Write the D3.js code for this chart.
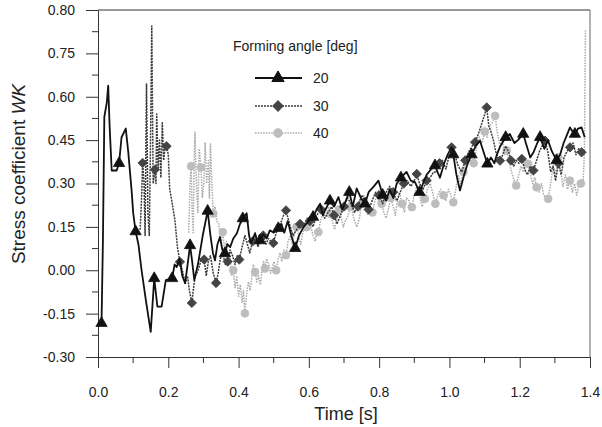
<!DOCTYPE html>
<html>
<head>
<meta charset="utf-8">
<script src="https://cdn.jsdelivr.net/npm/d3@7"></script>
<style>
  body { margin: 0; background: #fff; }
  svg { display: block; font-family: "Liberation Sans", Arial, sans-serif; }
</style>
</head>
<body>
<svg id="chart" width="602" height="427"></svg>
<script>
// legend labels
var series_names = ["20", "30", "40"];

// axis ticks (top tick printed as 0.80 in the original figure)
var y_ticks = [-0.30, -0.15, 0.00, 0.15, 0.30, 0.45, 0.60, 0.75, 0.90],
    y_tick_labels = ["-0.30", "-0.15", "0.00", "0.15", "0.30", "0.45", "0.60", "0.75", "0.80"],
    x_ticks = [0.0, 0.2, 0.4, 0.6, 0.8, 1.0, 1.2, 1.4],
    x_tick_labels = ["0.0", "0.2", "0.4", "0.6", "0.8", "1.0", "1.2", "1.4"];

// series 20 deg : [time, WK]
var data20 = [[0.010,-0.183],[0.014,0.10],[0.018,0.53],[0.025,0.58],[0.029,0.638],[0.033,0.50],[0.039,0.345],[0.053,0.345],[0.060,0.370],[0.067,0.46],[0.079,0.49],[0.086,0.41],[0.096,0.27],[0.100,0.20],[0.107,0.134],[0.115,0.09],[0.124,0.00],[0.137,-0.11],[0.150,-0.213],[0.160,-0.028],[0.169,-0.126],[0.181,-0.126],[0.193,-0.034],[0.211,-0.028],[0.218,0.02],[0.224,0.011],[0.232,0.04],[0.240,-0.02],[0.248,-0.045],[0.262,0.086],[0.268,0.03],[0.274,-0.034],[0.285,0.024],[0.298,0.12],[0.312,0.205],[0.320,0.12],[0.327,0.06],[0.333,0.034],[0.340,0.09],[0.347,0.115],[0.354,0.07],[0.361,0.058],[0.368,0.09],[0.376,0.08],[0.385,0.11],[0.395,0.127],[0.404,0.16],[0.412,0.179],[0.423,0.197],[0.430,0.12],[0.435,0.093],[0.441,0.11],[0.447,0.127],[0.455,0.09],[0.461,0.103],[0.470,0.125],[0.480,0.11],[0.489,0.138],[0.500,0.13],[0.513,0.145],[0.522,0.16],[0.530,0.13],[0.540,0.17],[0.550,0.12],[0.561,0.076],[0.572,0.12],[0.585,0.15],[0.600,0.17],[0.612,0.184],[0.622,0.21],[0.632,0.23],[0.640,0.19],[0.646,0.207],[0.660,0.24],[0.672,0.22],[0.684,0.253],[0.695,0.21],[0.705,0.24],[0.715,0.27],[0.725,0.22],[0.736,0.283],[0.748,0.25],[0.760,0.23],[0.770,0.27],[0.785,0.29],[0.798,0.31],[0.810,0.26],[0.820,0.24],[0.830,0.28],[0.840,0.25],[0.850,0.30],[0.862,0.32],[0.878,0.34],[0.890,0.31],[0.902,0.305],[0.915,0.27],[0.925,0.30],[0.935,0.33],[0.948,0.35],[0.959,0.362],[0.966,0.34],[0.973,0.32],[0.985,0.37],[0.995,0.40],[1.006,0.425],[1.011,0.40],[1.020,0.33],[1.030,0.276],[1.042,0.33],[1.052,0.37],[1.063,0.40],[1.075,0.43],[1.087,0.448],[1.097,0.41],[1.108,0.368],[1.118,0.39],[1.128,0.37],[1.135,0.40],[1.145,0.43],[1.160,0.46],[1.172,0.471],[1.185,0.44],[1.195,0.45],[1.210,0.471],[1.220,0.43],[1.230,0.39],[1.240,0.41],[1.250,0.44],[1.258,0.46],[1.270,0.42],[1.280,0.45],[1.292,0.41],[1.305,0.38],[1.315,0.40],[1.325,0.44],[1.335,0.47],[1.343,0.494],[1.350,0.48],[1.357,0.471],[1.366,0.49],[1.376,0.494],[1.385,0.46]];
var marks20 = [0.010,0.060,0.107,0.160,0.211,0.262,0.312,0.361,0.412,0.461,0.513,0.561,0.612,0.660,0.715,0.760,0.810,0.862,0.915,0.959,1.011,1.063,1.108,1.160,1.210,1.258,1.305,1.357];

// series 30 deg
var data30 = [[0.120,0.14],[0.124,0.25],[0.127,0.371],[0.131,0.30],[0.134,0.12],[0.138,0.644],[0.142,0.20],[0.146,0.12],[0.150,0.50],[0.153,0.845],[0.157,0.30],[0.162,0.348],[0.165,0.30],[0.167,0.54],[0.171,0.35],[0.175,0.45],[0.179,0.32],[0.183,0.51],[0.187,0.38],[0.191,0.43],[0.195,0.429],[0.200,0.40],[0.204,0.28],[0.210,0.24],[0.219,0.172],[0.226,0.08],[0.233,0.029],[0.240,0.00],[0.248,-0.045],[0.255,-0.02],[0.260,-0.07],[0.267,-0.113],[0.272,-0.06],[0.276,-0.023],[0.285,0.00],[0.295,0.041],[0.302,0.037],[0.308,-0.02],[0.314,0.03],[0.320,0.05],[0.328,-0.01],[0.336,-0.044],[0.342,-0.01],[0.348,0.04],[0.355,0.06],[0.362,0.02],[0.369,0.03],[0.376,0.07],[0.383,0.05],[0.390,0.02],[0.396,0.05],[0.402,0.037],[0.410,0.08],[0.418,0.12],[0.425,0.09],[0.432,0.06],[0.440,0.10],[0.447,0.13],[0.455,0.08],[0.462,0.10],[0.470,0.12],[0.478,0.09],[0.485,0.11],[0.492,0.10],[0.499,0.094],[0.507,0.13],[0.515,0.15],[0.522,0.17],[0.528,0.19],[0.535,0.207],[0.545,0.16],[0.555,0.12],[0.565,0.14],[0.575,0.16],[0.585,0.15],[0.595,0.18],[0.603,0.17],[0.612,0.15],[0.622,0.19],[0.635,0.21],[0.645,0.18],[0.655,0.20],[0.665,0.22],[0.672,0.19],[0.680,0.16],[0.690,0.19],[0.700,0.22],[0.710,0.25],[0.720,0.23],[0.730,0.20],[0.740,0.22],[0.750,0.26],[0.760,0.24],[0.770,0.21],[0.780,0.24],[0.790,0.27],[0.800,0.26],[0.810,0.23],[0.820,0.27],[0.830,0.29],[0.840,0.27],[0.850,0.24],[0.860,0.27],[0.870,0.30],[0.880,0.31],[0.890,0.29],[0.900,0.31],[0.907,0.333],[0.915,0.30],[0.925,0.28],[0.935,0.31],[0.945,0.32],[0.955,0.34],[0.963,0.339],[0.972,0.37],[0.980,0.38],[0.990,0.35],[1.000,0.40],[1.006,0.425],[1.015,0.40],[1.025,0.36],[1.035,0.34],[1.045,0.38],[1.055,0.41],[1.065,0.43],[1.073,0.443],[1.082,0.47],[1.090,0.50],[1.098,0.53],[1.106,0.563],[1.112,0.50],[1.118,0.48],[1.125,0.45],[1.132,0.41],[1.138,0.39],[1.144,0.379],[1.152,0.40],[1.160,0.43],[1.168,0.41],[1.175,0.38],[1.183,0.36],[1.190,0.38],[1.198,0.37],[1.206,0.385],[1.214,0.35],[1.222,0.33],[1.230,0.36],[1.239,0.345],[1.248,0.38],[1.256,0.41],[1.264,0.43],[1.272,0.448],[1.280,0.41],[1.288,0.34],[1.295,0.36],[1.302,0.31],[1.310,0.37],[1.318,0.33],[1.326,0.39],[1.334,0.41],[1.343,0.425],[1.352,0.44],[1.360,0.40],[1.368,0.42],[1.376,0.408],[1.385,0.41]];
var marks30 = [0.127,0.162,0.195,0.233,0.267,0.302,0.336,0.369,0.402,0.440,0.470,0.499,0.535,0.575,0.603,0.635,0.672,0.700,0.740,0.770,0.800,0.840,0.870,0.907,0.935,0.972,1.006,1.045,1.073,1.106,1.144,1.175,1.206,1.239,1.272,1.310,1.343,1.376];

// series 40 deg
var data40 = [[0.258,0.13],[0.262,0.30],[0.265,0.36],[0.268,0.20],[0.271,0.13],[0.274,0.40],[0.276,0.477],[0.280,0.30],[0.284,0.20],[0.288,0.42],[0.293,0.356],[0.297,0.25],[0.301,0.30],[0.305,0.442],[0.309,0.30],[0.314,0.379],[0.317,0.25],[0.320,0.437],[0.324,0.30],[0.328,0.196],[0.333,0.22],[0.338,0.17],[0.344,0.16],[0.350,0.10],[0.355,0.132],[0.360,0.07],[0.365,0.10],[0.370,0.02],[0.375,0.06],[0.380,-0.02],[0.385,0.00],[0.390,-0.06],[0.395,-0.02],[0.400,-0.09],[0.405,-0.05],[0.410,-0.11],[0.414,-0.07],[0.418,-0.149],[0.423,-0.08],[0.428,-0.04],[0.433,-0.07],[0.438,-0.02],[0.442,0.02],[0.447,-0.006],[0.452,-0.04],[0.457,-0.02],[0.462,-0.05],[0.466,-0.01],[0.471,0.03],[0.475,0.006],[0.480,0.04],[0.486,0.02],[0.491,-0.01],[0.496,0.01],[0.501,0.03],[0.507,0.00],[0.513,0.04],[0.518,0.06],[0.523,0.03],[0.529,0.07],[0.535,0.052],[0.541,0.10],[0.547,0.12],[0.553,0.09],[0.559,0.13],[0.565,0.15],[0.571,0.12],[0.577,0.09],[0.583,0.13],[0.589,0.16],[0.594,0.149],[0.600,0.17],[0.606,0.15],[0.612,0.12],[0.618,0.10],[0.622,0.13],[0.627,0.132],[0.633,0.17],[0.640,0.20],[0.645,0.18],[0.651,0.19],[0.656,0.22],[0.660,0.195],[0.667,0.17],[0.673,0.14],[0.680,0.18],[0.686,0.21],[0.692,0.18],[0.698,0.15],[0.704,0.17],[0.712,0.19],[0.718,0.22],[0.724,0.20],[0.730,0.17],[0.737,0.15],[0.744,0.18],[0.750,0.23],[0.756,0.26],[0.762,0.21],[0.769,0.19],[0.775,0.22],[0.781,0.20],[0.788,0.24],[0.794,0.26],[0.800,0.23],[0.807,0.23],[0.813,0.20],[0.820,0.18],[0.826,0.21],[0.833,0.25],[0.840,0.22],[0.846,0.19],[0.852,0.24],[0.858,0.27],[0.865,0.23],[0.872,0.20],[0.878,0.25],[0.885,0.24],[0.893,0.218],[0.900,0.26],[0.907,0.29],[0.915,0.26],[0.922,0.22],[0.930,0.247],[0.937,0.28],[0.945,0.30],[0.952,0.27],[0.960,0.23],[0.967,0.26],[0.975,0.28],[0.983,0.259],[0.990,0.24],[0.997,0.28],[1.004,0.26],[1.011,0.235],[1.018,0.28],[1.025,0.33],[1.032,0.30],[1.040,0.34],[1.047,0.38],[1.054,0.368],[1.062,0.40],[1.069,0.37],[1.077,0.42],[1.085,0.46],[1.093,0.44],[1.100,0.48],[1.107,0.46],[1.115,0.50],[1.122,0.51],[1.130,0.534],[1.137,0.47],[1.144,0.43],[1.150,0.45],[1.157,0.40],[1.163,0.414],[1.170,0.37],[1.177,0.34],[1.184,0.31],[1.190,0.293],[1.197,0.33],[1.204,0.36],[1.211,0.34],[1.218,0.38],[1.224,0.368],[1.231,0.33],[1.237,0.30],[1.243,0.32],[1.248,0.287],[1.255,0.27],[1.262,0.30],[1.268,0.26],[1.275,0.25],[1.281,0.247],[1.288,0.30],[1.295,0.36],[1.302,0.33],[1.310,0.39],[1.317,0.34],[1.323,0.29],[1.330,0.33],[1.336,0.28],[1.343,0.31],[1.350,0.27],[1.356,0.30],[1.362,0.26],[1.368,0.29],[1.374,0.30],[1.380,0.299],[1.384,0.40],[1.387,0.83]];
var marks40 = [0.265,0.293,0.328,0.355,0.385,0.418,0.447,0.475,0.507,0.535,0.565,0.594,0.627,0.660,0.686,0.718,0.750,0.781,0.807,0.833,0.865,0.893,0.930,0.960,0.983,1.011,1.040,1.069,1.100,1.130,1.163,1.190,1.224,1.248,1.281,1.310,1.343,1.374];

var plot_left = 98, plot_right = 590, plot_top = 10, plot_bottom = 357;

var svg = d3.select("#chart");

var x = d3.scaleLinear().domain([0, 1.4]).range([plot_left, plot_right]),
    y = d3.scaleLinear().domain([-0.30, 0.90]).range([plot_bottom, plot_top]);

svg.append("rect")
    .attr('width', 602).attr('height', 427)
    .attr('fill', "#fff");

// minor ticks (half steps)
var xminor = x_ticks.slice(0, -1).map(function(d){ return d + 0.1; }),
    yminor = y_ticks.slice(0, -1).map(function(d){ return d + 0.075; });

svg.append("g").selectAll("line")
    .data(xminor).enter().append("line")
    .attr('x1', function(d){ return x(d); }).attr('x2', function(d){ return x(d); })
    .attr('y1', plot_bottom).attr('y2', plot_bottom + 6)
    .style('stroke', "#333").style('stroke-width', "1px");

svg.append("g").selectAll("line")
    .data(yminor).enter().append("line")
    .attr('x1', plot_left - 6).attr('x2', plot_left)
    .attr('y1', function(d){ return y(d); }).attr('y2', function(d){ return y(d); })
    .style('stroke', "#333").style('stroke-width', "1px");

// axes
svg.append("g")
    .attr('transform', "translate(0," + plot_bottom + ")")
    .call(d3.axisBottom(x)
        .tickValues(x_ticks)
        .tickSizeInner(11).tickSizeOuter(0)
        .tickPadding(19)
        .tickFormat(function(d, i){ return x_tick_labels[i]; }));

svg.append("g")
    .attr('transform', "translate(" + plot_left + ",0)")
    .call(d3.axisLeft(y)
        .tickValues(y_ticks)
        .tickSizeInner(12).tickSizeOuter(0)
        .tickPadding(11)
        .tickFormat(function(d, i){ return y_tick_labels[i]; }));

svg.selectAll(".tick text")
    .style('font-family', "'Liberation Sans', Arial, sans-serif")
    .style('font-size', "14px")
    .style('fill', "#222");
svg.selectAll(".tick line, .domain").style('stroke', "#333");

// frame top and right
svg.append("line")
    .attr('x1', plot_left).attr('x2', plot_right).attr('y1', plot_top).attr('y2', plot_top)
    .style('stroke', "#333");
svg.append("line")
    .attr('x1', plot_right).attr('x2', plot_right).attr('y1', plot_top).attr('y2', plot_bottom)
    .style('stroke', "#666");

// axis titles
svg.append("text")
    .attr('x', 346).attr('y', 420)
    .attr('text-anchor', "middle")
    .style('font-size', "18px").style('fill', "#222")
    .text("Time [s]");

var ylab = svg.append("text")
    .attr('transform', "translate(25,174) rotate(-90)")
    .attr('text-anchor', "middle")
    .style('font-size', "19px").style('fill', "#222");
ylab.append("tspan").text("Stress coefficient ");
ylab.append("tspan").style('font-style', "italic").text("WK");

// series styles
var styles = [
    { data: data20, marks: marks20, stroke: "#111", dash: null, width: 1.8, symbol: d3.symbolTriangle, size: 55, fill: "#111", rot: 0 },
    { data: data30, marks: marks30, stroke: "#3a3a3a", dash: "2,1", width: 1.5, symbol: d3.symbolSquare, size: 44, fill: "#444", rot: 45 },
    { data: data40, marks: marks40, stroke: "#aaa", dash: "1.5,1.2", width: 1.5, symbol: d3.symbolCircle, size: 48, fill: "#bdbdbd", rot: 0 }
];

var line = d3.line()
    .x(function(d){ return x(d[0]); })
    .y(function(d){ return y(d[1]); });

var bis = d3.bisector(function(d){ return d[0]; }).center;

// draw back to front: 40, 30, 20
[2, 1, 0].forEach(function(k){
    var s = styles[k];
    var g = svg.append("g");
    g.append("path")
        .datum(s.data)
        .attr('d', line)
        .style('fill', "none")
        .style('stroke', s.stroke)
        .style('stroke-width', s.width + "px")
        .style('stroke-dasharray', s.dash)
        .style('stroke-linejoin', "round");

    var pts = s.marks.map(function(t){ return s.data[bis(s.data, t)]; });
    g.selectAll("path.mark")
        .data(pts).enter().append("path")
        .attr('class', "mark")
        .attr('d', d3.symbol().type(s.symbol).size(s.size))
        .attr('transform', function(d){ return "translate(" + x(d[0]) + "," + y(d[1]) + ") rotate(" + s.rot + ")"; })
        .style('fill', s.fill)
        .style('stroke', s.fill)
        .style('stroke-width', "0.8px");
});

// legend
var legend = svg.append("g");
legend.append("text")
    .attr('x', 233).attr('y', 51)
    .style('font-size', "14px").style('fill', "#222")
    .text("Forming angle [deg]");

var ly = [78, 106, 133];
styles.forEach(function(s, i){
    legend.append("line")
        .attr('x1', 255).attr('x2', 302).attr('y1', ly[i]).attr('y2', ly[i])
        .style('stroke', s.stroke)
        .style('stroke-width', s.width + "px")
        .style('stroke-dasharray', s.dash);
    legend.append("path")
        .attr('d', d3.symbol().type(s.symbol).size(s.size + 10))
        .attr('transform', "translate(278," + ly[i] + ") rotate(" + s.rot + ")")
        .style('fill', s.fill).style('stroke', s.fill);
    legend.append("text")
        .attr('x', 313).attr('y', ly[i] + 5)
        .style('font-size', "14px").style('fill', "#222")
        .text(series_names[i]);
});
</script>
</body>
</html>
